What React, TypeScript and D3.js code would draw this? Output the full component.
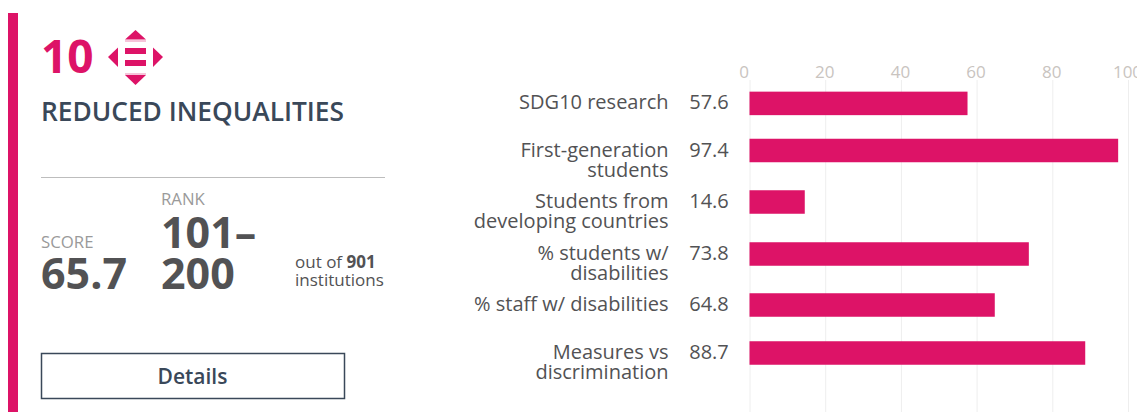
import React from "react";
import * as d3 from "d3";

const categories: string[][] = [
  ["SDG10 research"],
  ["First-generation", "students"],
  ["Students from", "developing countries"],
  ["% students w/", "disabilities"],
  ["% staff w/ disabilities"],
  ["Measures vs", "discrimination"],
];
const values = [57.6, 97.4, 14.6, 73.8, 64.8, 88.7];
const ticks = [0, 20, 40, 60, 80, 100];
const bandCenters = [103.4, 150.5, 202, 254, 305, 353];

const PINK = "#dd1367";
const DARK = "#3a4859";
const GREY = "#525254";
const FONT = "'Open Sans', sans-serif";

export default function App() {
  const x = d3.scaleLinear().domain([0, 100]).range([749.5, 1128]);
  const barH = 23.5;
  return (
    <svg width={1137} height={412} style={{ position: "absolute", left: 0, top: 0, display: "block", fontFamily: FONT }}>
      <rect x={8} y={13} width={10} height={399} fill={PINK} />
      <text x={41} y={73} fontSize={46} fontWeight={700} fill={PINK}>10</text>
      <g fill={PINK}>
        <polygon points="135.5,30 146,39.5 125,39.5" />
        <polygon points="135.5,85 146,75 125,75" />
        <polygon points="108,57 118,47.5 118,67" />
        <polygon points="163,57 153,47.5 153,67" />
        <rect x={125} y={48} width={21} height={6} />
        <rect x={125} y={60} width={21} height={6} />
        <rect x={125} y={40} width={21} height={2} opacity={0.25} />
        <rect x={125} y={73} width={21} height={2} opacity={0.25} />
      </g>
      <text x={41} y={121} fontSize={26.3} fontWeight={600} fill={DARK}>REDUCED INEQUALITIES</text>
      <line x1={41} x2={385} y1={177.5} y2={177.5} stroke="#bdbdbd" strokeWidth={1} />
      <text x={41} y={248} fontSize={16.8} fill="#9a9a9a">SCORE</text>
      <text x={41} y={289} fontSize={43} fontWeight={700} fill={GREY}>65.7</text>
      <text x={161} y={205} fontSize={16.8} fill="#9a9a9a">RANK</text>
      <text x={161} y={248} fontSize={43} fontWeight={700} fill={GREY}>101–</text>
      <text x={161} y={289} fontSize={43} fontWeight={700} fill={GREY}>200</text>
      <text x={295} y={268} fontSize={17} fill={GREY}>out of <tspan fontWeight={700}>901</tspan></text>
      <text x={295} y={286} fontSize={17} fill={GREY}>institutions</text>
      <rect x={41.5} y={353.5} width={303} height={45} fill="#fff" stroke={DARK} strokeWidth={1.5} />
      <text x={192.5} y={384} fontSize={21} fontWeight={600} fill={DARK} textAnchor="middle">Details</text>

      {ticks.map((t) => (
        <g key={t}>
          <line x1={x(t) + 0.5} x2={x(t) + 0.5} y1={80} y2={412} stroke="#eeeeee" strokeWidth={1} />
          <text x={t === 0 ? x(t) - 5.5 : x(t) - 0.5} y={78} fontSize={17} fill="#c9c4bf" textAnchor="middle">{t}</text>
        </g>
      ))}
      {values.map((v, i) => {
        const cy = bandCenters[i];
        const lines = categories[i];
        const start = Math.round(cy) + 6;
        return (
          <g key={i}>
            <rect x={x(0)} y={cy - barH / 2} width={x(v) - x(0)} height={barH} fill={PINK} />
            {lines.map((l, j) => (
              <text key={j} x={668.5} y={start + j * 20} fontSize={20} fill={GREY} textAnchor="end">{l}</text>
            ))}
            <text x={709} y={start} fontSize={20} fill={GREY} textAnchor="middle">{v.toFixed(1)}</text>
          </g>
        );
      })}
    </svg>
  );
}
